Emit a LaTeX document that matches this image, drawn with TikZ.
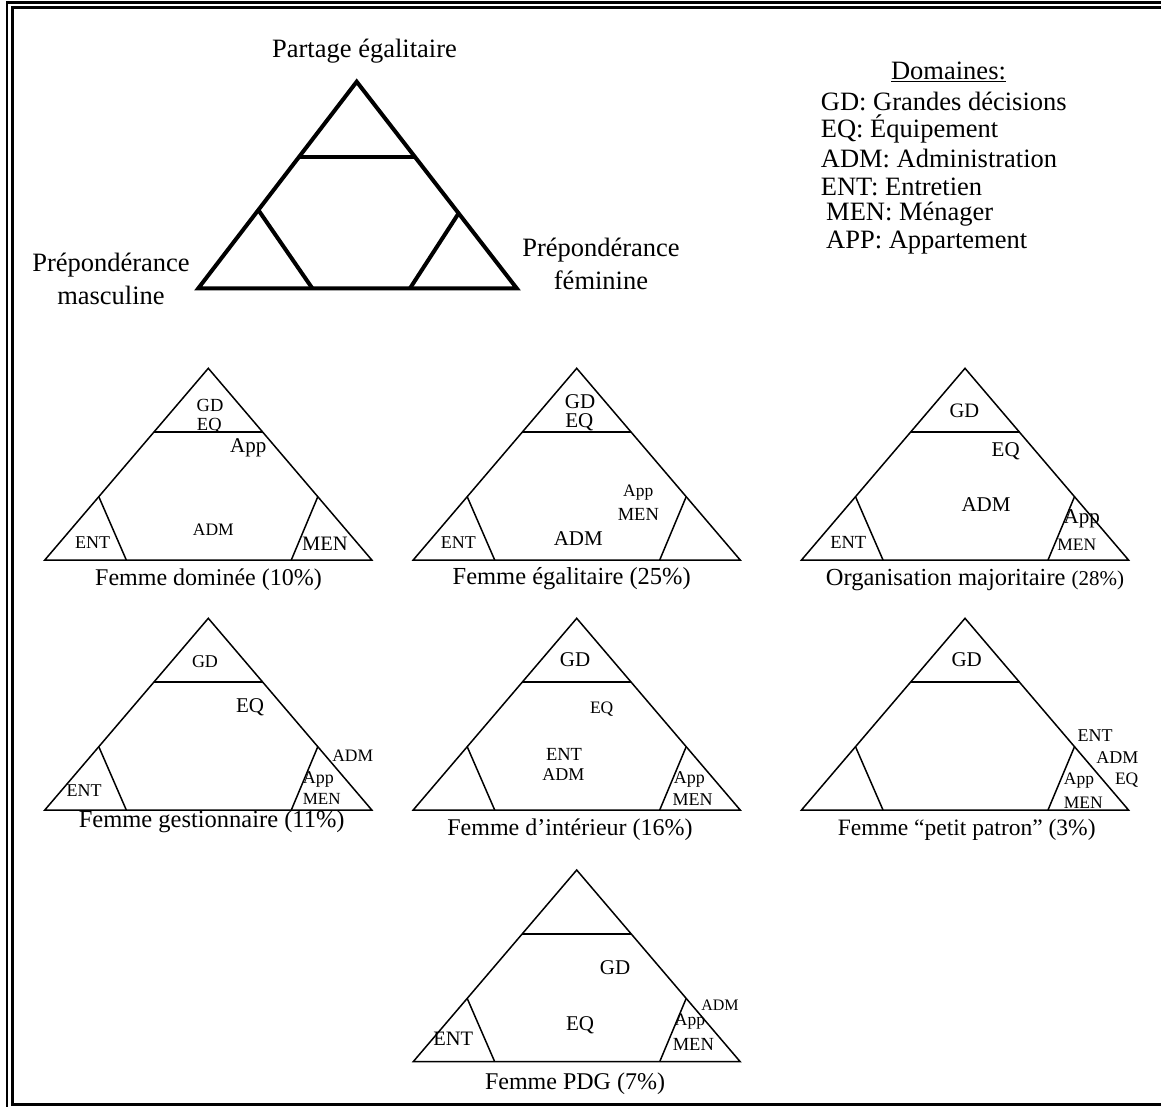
\documentclass[tikz,border=0pt]{standalone}
\usepackage{fontspec}
\setmainfont{Liberation Serif}
\usetikzlibrary{calc}
\newcommand\fz[1]{\fontsize{#1}{#1}\selectfont}

\begin{document}
\begin{tikzpicture}[x=1pt,y=-1pt,
  lbl/.style={inner sep=0pt, anchor=center},
  legend/.style={inner sep=0pt, anchor=west, font=\fz{26.5}},
  thin edge/.style={line width=1.5pt, line join=miter},
  bold edge/.style={line width=4pt, line join=miter},
  frame/.style={line width=2.2pt},
  pics/ternary/.style={code={
    \coordinate (-A) at (0,0);
    \coordinate (-L) at (-163.5,191.7);
    \coordinate (-R) at (163.5,191.7);
    \draw[thin edge] (-L) -- (-A) -- (-R) -- cycle;
    \draw[thin edge] (-54.5,63.9) -- (54.5,63.9);
    \draw[thin edge] (-109.5,128.4) -- (-82,191.7);
    \draw[thin edge] (109.5,128.4) -- (83,191.7);
  }}]
\useasboundingbox (0,0) rectangle (1161,1106);

% double frame
\draw[frame] (7,2.5) rectangle (1190,1115);
\draw[frame] (12.5,7.5) rectangle (1180,1104.5);

% large reference triangle
\coordinate (bigA) at (356.7,81.7);
\coordinate (bigL) at (198.3,288.3);
\coordinate (bigR) at (516.7,288.3);
\draw[bold edge] (bigL) -- (bigA) -- (bigR) -- cycle;
\draw[bold edge] ($(bigA)!0.363!(bigL)$) -- ($(bigA)!0.363!(bigR)$);
\draw[bold edge] ($(bigA)!0.621!(bigL)$) -- (312.3,288.3);
\draw[bold edge] ($(bigA)!0.637!(bigR)$) -- (410,288.3);

\node[lbl,font=\fz{26.5}] (egal) at (364.5,51) {Partage égalitaire};
\node[lbl,font=\fontsize{26.5}{32.5}\selectfont,align=center] (masc) at (111,279) {Prépondérance\\masculine};
\node[lbl,font=\fontsize{26.5}{32.5}\selectfont,align=center] (fem) at (601,264) {Prépondérance\\féminine};

% legend
\node[lbl,font=\fz{26.5}] (dom) at (948.5,72) {\underline{Domaines:}};
\node[legend] (lgd) at (820.7,101.5) {GD: Grandes décisions};
\node[legend] (leq) at (820.7,129) {EQ: Équipement};
\node[legend] (ladm) at (820.7,158) {ADM: Administration};
\node[legend] (lent) at (820.7,186.5) {ENT: Entretien};
\node[legend] (lmen) at (826,214.5) {MEN: Ménager};
\node[legend] (lapp) at (826,243) {APP: Appartement};

% small triangles
\pic (t1) at (208.3,368.3) {ternary};
\pic (t2) at (576.7,368.3) {ternary};
\pic (t3) at (965,368.3) {ternary};
\pic (t4) at (208.3,618.3) {ternary};
\pic (t5) at (576.7,618.3) {ternary};
\pic (t6) at (965,618.3) {ternary};
\pic (t7) at (576.7,870) {ternary};

% Femme dominee
\node[lbl,font=\fz{18.5}] (t1gd) at (210,405) {GD};
\node[lbl,font=\fz{18.5}] (t1eq) at (209.3,426) {EQ};
\node[lbl,font=\fz{21}] (t1app) at (248.3,448) {App};
\node[lbl,font=\fz{17.5}] (t1adm) at (213.3,530) {ADM};
\node[lbl,font=\fz{18}] (t1ent) at (92.7,542.7) {ENT};
\node[lbl,font=\fz{20.5}] (t1men) at (325,544) {MEN};
\node[lbl,font=\fz{24}] (t1cap) at (208.5,580) {Femme dominée (10\%)};

% Femme egalitaire
\node[lbl,font=\fz{21}] (t2gd) at (580,401.7) {GD};
\node[lbl,font=\fz{21}] (t2eq) at (579.3,422.7) {EQ};
\node[lbl,font=\fz{17.5}] (t2app) at (638.3,493) {App};
\node[lbl,font=\fz{18.5}] (t2men) at (638.3,514.3) {MEN};
\node[lbl,font=\fz{21}] (t2adm) at (578.3,538.3) {ADM};
\node[lbl,font=\fz{18}] (t2ent) at (458.3,542.3) {ENT};
\node[lbl,font=\fz{24.5}] (t2cap) at (571.7,578.3) {Femme égalitaire (25\%)};

% Organisation majoritaire
\node[lbl,font=\fz{20.5}] (t3gd) at (964.3,411) {GD};
\node[lbl,font=\fz{21}] (t3eq) at (1005.7,451) {EQ};
\node[lbl,font=\fz{21}] (t3adm) at (986,505) {ADM};
\node[lbl,font=\fz{21}] (t3app) at (1081.7,519) {App};
\node[lbl,font=\fz{17.5}] (t3men) at (1076.7,544.3) {MEN};
\node[lbl,font=\fz{18.5}] (t3ent) at (848.3,542.7) {ENT};
\node[lbl,font=\fz{24.5}] (t3cap) at (975,580) {Organisation majoritaire {\fz{21}(28\%)}};

% Femme gestionnaire
\node[lbl,font=\fz{18}] (t4gd) at (205,661.7) {GD};
\node[lbl,font=\fz{21}] (t4eq) at (250,707.3) {EQ};
\node[lbl,font=\fz{17.5}] (t4adm) at (352.7,756) {ADM};
\node[lbl,font=\fz{18}] (t4app) at (318.3,779.5) {App};
\node[lbl,font=\fz{17}] (t4men) at (321.7,798.5) {MEN};
\node[lbl,font=\fz{24.5}] (t4cap) at (211.7,822) {Femme gestionnaire (11\%)};
\node[lbl,font=\fz{18}] (t4ent) at (84,791) {ENT};

% Femme d'interieur
\node[lbl,font=\fz{21}] (t5gd) at (575,660) {GD};
\node[lbl,font=\fz{17.5}] (t5eq) at (601.7,709.3) {EQ};
\node[lbl,font=\fz{18.5}] (t5ent) at (564,754) {ENT};
\node[lbl,font=\fz{18}] (t5adm) at (563.3,775) {ADM};
\node[lbl,font=\fz{18}] (t5app) at (689.3,779.5) {App};
\node[lbl,font=\fz{18}] (t5men) at (692.7,800) {MEN};
\node[lbl,font=\fz{24}] (t5cap) at (570,830) {Femme d’intérieur (16\%)};

% Femme petit patron
\node[lbl,font=\fz{21}] (t6gd) at (966.7,660) {GD};
\node[lbl,font=\fz{18}] (t6ent) at (1095,736) {ENT};
\node[lbl,font=\fz{18}] (t6adm) at (1117.3,757.7) {ADM};
\node[lbl,font=\fz{17.5}] (t6eq) at (1126.7,780) {EQ};
\node[lbl,font=\fz{17.5}] (t6app) at (1079,780.5) {App};
\node[lbl,font=\fz{17.5}] (t6men) at (1083.3,802.7) {MEN};
\node[lbl,font=\fz{23.5}] (t6cap) at (966.7,830) {Femme “petit patron” (3\%)};

% Femme PDG
\node[lbl,font=\fz{21}] (t7gd) at (615,967.3) {GD};
\node[lbl,font=\fz{21}] (t7eq) at (580,1025.7) {EQ};
\node[lbl,font=\fz{20.5}] (t7ent) at (453.3,1039) {ENT};
\node[lbl,font=\fz{16}] (t7adm) at (720,1005) {ADM};
\node[lbl,font=\fz{17.5}] (t7app) at (690,1022) {App};
\node[lbl,font=\fz{18.5}] (t7men) at (693.3,1044) {MEN};
\node[lbl,font=\fz{24}] (t7cap) at (575,1084) {Femme PDG (7\%)};
\end{tikzpicture}
\end{document}
